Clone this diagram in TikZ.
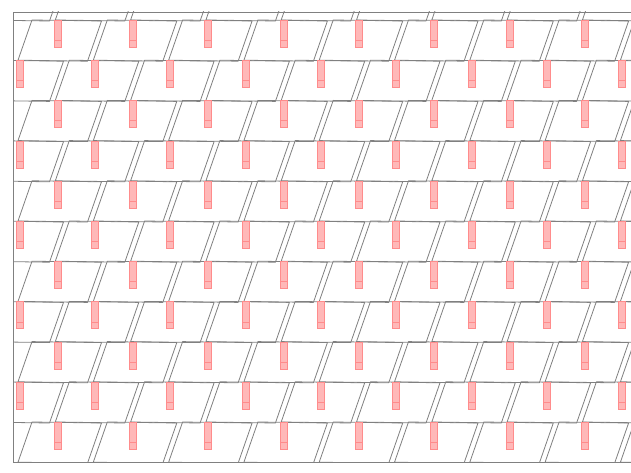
\documentclass[tikz,border=0pt]{standalone}
\begin{document}
\begin{tikzpicture}[x=1pt,y=-1pt,
  brick/.style={draw=black!50,line width=0.8pt,line join=round},
  tag/.style={draw=red!45!white,fill=red!28!white,line width=0.5pt},
  tagline/.style={draw=red!45!white,line width=0.4pt},
  frame/.style={draw=black!50,line width=0.9pt}]
\useasboundingbox (0,0) rectangle (631,473);
\fill[white] (0,0) rectangle (631,473);
\begin{scope}
\clip (13,12) rectangle (700,462);
\foreach \r in {0,...,11}{
  \pgfmathsetmacro{\yt}{20+(\r-1)*40.2}
  \pgfmathsetmacro{\xo}{ifthenelse(mod(\r,2)==1,32,-6)}
  \foreach \k in {0,...,9}{
    \pgfmathsetmacro{\xt}{\xo+\k*75.3}
    \draw[brick] (\xt,\yt) -- ++(69.5,1) -- ++(-14,40.2) -- ++(-69.5,-1) -- cycle;
    \draw[tag] (\xt+22,\yt+0.3) rectangle ++(7,27);
    \draw[tagline] (\xt+22,\yt+20.3) -- ++(7,0);
  }
}
\end{scope}
\draw[frame] (640,12) -- (13,12) -- (13,462) -- (640,462);
\end{tikzpicture}
\end{document}
